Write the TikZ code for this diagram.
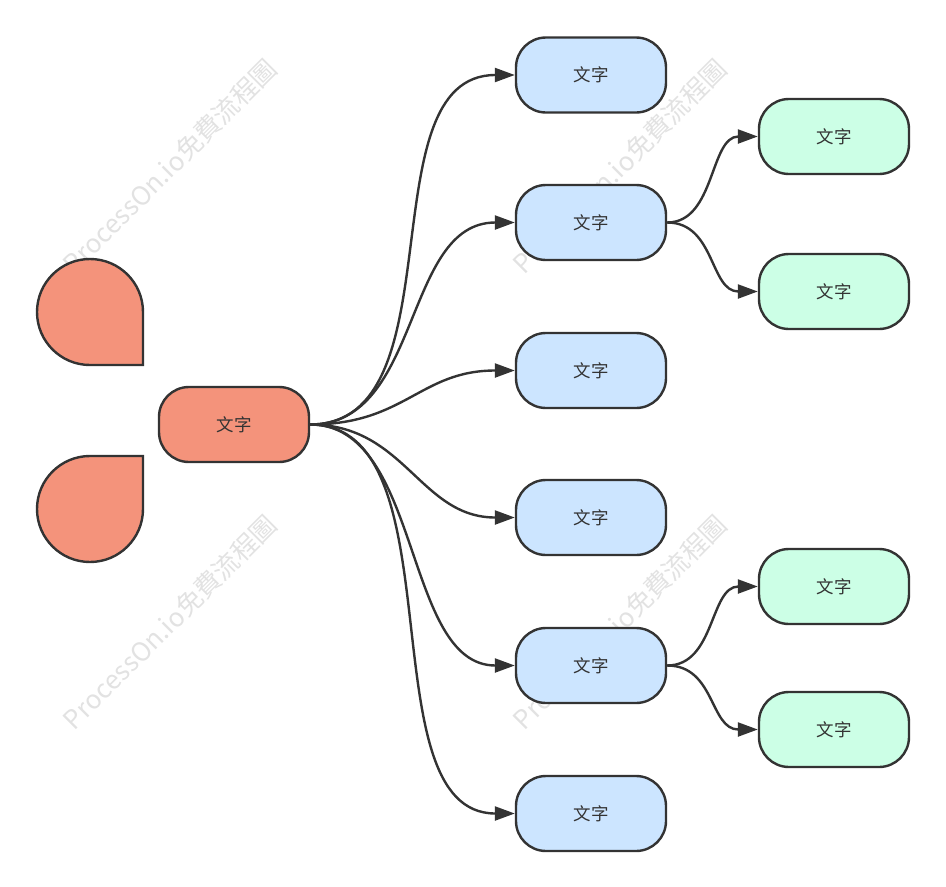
\documentclass[tikz,border=0pt]{standalone}
\usepackage{fontspec}
\newfontfamily\cjk{Noto Sans CJK SC}
\usetikzlibrary{arrows.meta,calc}
\definecolor{salmon}{HTML}{F4937B}
\definecolor{lblue}{HTML}{CCE5FF}
\definecolor{lgreen}{HTML}{CCFFE6}
\definecolor{ink}{HTML}{333333}
\definecolor{wm}{HTML}{E2E2E2}
\tikzset{
  pill/.style={draw=ink, line width=2.4pt, rounded corners=30pt, minimum width=150pt, minimum height=75pt, inner sep=0pt, font=\cjk\fontsize{17.5pt}{20pt}\selectfont, text=ink},
  rootbox/.style={pill, fill=salmon},
  bluebox/.style={pill, fill=lblue},
  greenbox/.style={pill, fill=lgreen},
  drop/.style={draw=ink, line width=2.4pt, fill=salmon},
  conn/.style={draw=ink, line width=2.4pt, -{Triangle[length=20pt,width=14pt]}},
  watermark/.style={text=wm, rotate=45, font=\cjk\fontsize{26pt}{28pt}\selectfont}
}
\begin{document}
\begin{tikzpicture}[x=1pt,y=-1pt]
\useasboundingbox (0,0) rectangle (946,887);
% watermarks
\node[watermark] (w1) at (170,166) {ProcessOn.io免費流程圖};
\node[watermark] (w2) at (620,166) {ProcessOn.io免費流程圖};
\node[watermark] (w3) at (170,622) {ProcessOn.io免費流程圖};
\node[watermark] (w4) at (620,622) {ProcessOn.io免費流程圖};
% teardrops
\path[drop] (143,365) -- (90,365) arc[start angle=90, end angle=360, radius=53] -- cycle;
\path[drop] (143,456) -- (143,509) arc[start angle=0, end angle=270, radius=53] -- cycle;
% nodes
\node[rootbox] (root) at (234,424.5) {文字};
\node[bluebox] (b1) at (591,75) {文字};
\node[bluebox] (b2) at (591,222.5) {文字};
\node[bluebox] (b3) at (591,370.5) {文字};
\node[bluebox] (b4) at (591,517.5) {文字};
\node[bluebox] (b5) at (591,665.5) {文字};
\node[bluebox] (b6) at (591,813.5) {文字};
\node[greenbox] (g1) at (834,136.5) {文字};
\node[greenbox] (g2) at (834,291.5) {文字};
\node[greenbox] (g3) at (834,586.5) {文字};
\node[greenbox] (g4) at (834,729.5) {文字};
% connectors
\foreach \b/\c in {b1/150,b2/112,b3/95,b4/95,b5/112,b6/150}{
  \draw[conn] (root.east) .. controls +(\c,0) and +(-\c,0) .. (\b.west);
}
\draw[conn] (b2.east) .. controls +(48,0) and +(-48,0) .. (g1.west);
\draw[conn] (b2.east) .. controls +(48,0) and +(-48,0) .. (g2.west);
\draw[conn] (b5.east) .. controls +(48,0) and +(-48,0) .. (g3.west);
\draw[conn] (b5.east) .. controls +(48,0) and +(-48,0) .. (g4.west);
\end{tikzpicture}
\end{document}
